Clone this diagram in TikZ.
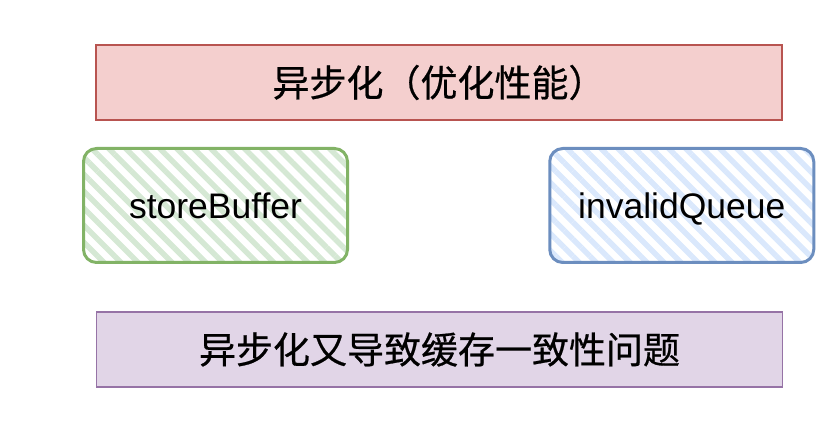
\documentclass[tikz,border=0pt]{standalone}
\usepackage{fontspec}
\setmainfont{Liberation Sans}
\newfontfamily\cjk[FakeBold=0.6]{Noto Sans CJK SC}
\usetikzlibrary{positioning, patterns.meta}
\definecolor{redfill}{HTML}{F4CFCE}
\definecolor{redline}{HTML}{B85450}
\definecolor{purplefill}{HTML}{E1D5E7}
\definecolor{purpleline}{HTML}{9673A6}
\definecolor{greenline}{HTML}{82B366}
\definecolor{greenhatch}{HTML}{D5E8D4}
\definecolor{blueline}{HTML}{6C8EBF}
\definecolor{bluehatch}{HTML}{DAE8FC}
\tikzset{
  banner/.style={
    draw, line width=1.5pt,
    minimum width=686pt, minimum height=75pt,
    font=\cjk\fontsize{37}{42}\selectfont
  },
  hatchbox/.style={
    draw, line width=3pt, rounded corners=13pt,
    minimum width=264pt, minimum height=114pt,
    text height=26pt, text depth=0pt,
    font=\fontsize{35.5}{40}\selectfont
  },
  hatch/.style={
    pattern={Lines[angle=-45, distance=12pt, line width=5.5pt]},
    pattern color=#1
  },
}

\begin{document}
\begin{tikzpicture}[x=1pt, y=-1pt]
  \useasboundingbox (0,0) rectangle (830,430);

  \node[banner, fill=redfill, draw=redline] (gain) at (439,82.5)
    {异步化（优化性能）};

  \node[hatchbox, draw=greenline, hatch=greenhatch] (sb) at (215.5,205.5)
    {storeBuffer};
  \node[hatchbox, draw=blueline, hatch=bluehatch, right=198pt of sb] (iq)
    {invalidQueue};

  \node[banner, fill=purplefill, draw=purpleline] (cost) at (439.5,349.5)
    {异步化又导致缓存一致性问题};
\end{tikzpicture}
\end{document}
